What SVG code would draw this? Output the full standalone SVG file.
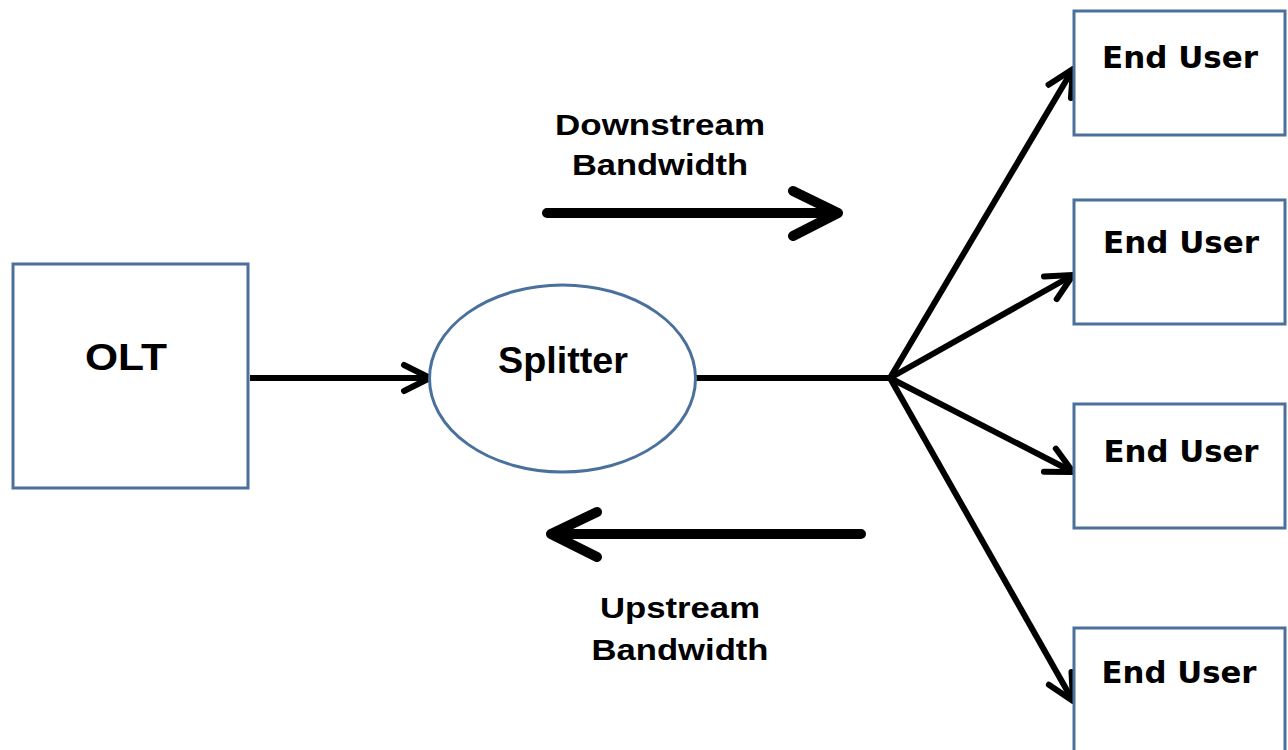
<svg xmlns="http://www.w3.org/2000/svg" width="1288" height="750" viewBox="0 0 1288 750">
  <style>
    .box { fill: #ffffff; stroke: #4a709c; stroke-width: 3; }
    .lbl { font-family: "Liberation Sans", Arial, sans-serif; font-weight: bold; fill: #000000; text-anchor: middle; }
    .eu { font-family: "DejaVu Sans", Verdana, sans-serif; font-weight: bold; font-size: 30px; fill: #000000; text-anchor: middle; }
    .conn { stroke: #000000; stroke-width: 6; fill: none; }
    .big { stroke: #000000; stroke-width: 10; fill: none; stroke-linecap: round; stroke-linejoin: round; }
  </style>
  <defs>
    <marker id="chev" markerUnits="userSpaceOnUse" viewBox="-32 -18 36 36" markerWidth="36" markerHeight="36" refX="0" refY="0" orient="auto">
      <path d="M -26,-13 L 0,0 L -26,13" fill="none" stroke="#000000" stroke-width="6" stroke-linecap="round" stroke-linejoin="round"/>
    </marker>
  </defs>
  <rect width="1288" height="750" fill="#ffffff"/>

  <g id="connectors">
    <line class="conn" x1="250" y1="378" x2="430" y2="378" marker-end="url(#chev)"/>
    <line class="conn" x1="696" y1="378" x2="890" y2="378"/>
    <line class="conn" x1="890" y1="378" x2="1073" y2="69" marker-end="url(#chev)"/>
    <line class="conn" x1="890" y1="378" x2="1073" y2="275" marker-end="url(#chev)"/>
    <line class="conn" x1="890" y1="378" x2="1073" y2="472" marker-end="url(#chev)"/>
    <line class="conn" x1="890" y1="378" x2="1073" y2="701" marker-end="url(#chev)"/>
  </g>

  <g id="downstream-arrow">
    <path class="big" d="M 547,213 L 838,213 M 793,191 L 838,213 L 793,236"/>
    <text class="lbl" font-size="30" x="660" y="135" textLength="210" lengthAdjust="spacingAndGlyphs">Downstream</text>
    <text class="lbl" font-size="30" x="660" y="175" textLength="176" lengthAdjust="spacingAndGlyphs">Bandwidth</text>
  </g>

  <g id="upstream-arrow">
    <path class="big" d="M 861,534 L 551,534 M 597,512 L 551,534 L 597,557"/>
    <text class="lbl" font-size="30" x="680" y="618" textLength="160" lengthAdjust="spacingAndGlyphs">Upstream</text>
    <text class="lbl" font-size="30" x="680" y="660" textLength="177" lengthAdjust="spacingAndGlyphs">Bandwidth</text>
  </g>

  <g id="olt">
    <rect class="box" x="13" y="264" width="235" height="224"/>
    <text class="lbl" font-size="37" x="126" y="370" textLength="82" lengthAdjust="spacingAndGlyphs">OLT</text>
  </g>

  <g id="splitter">
    <ellipse class="box" cx="562.5" cy="378.5" rx="133" ry="93.5"/>
    <text class="lbl" font-size="37" x="563" y="373" textLength="130" lengthAdjust="spacingAndGlyphs">Splitter</text>
  </g>

  <g id="end-user-1">
    <rect class="box" x="1074" y="11" width="211" height="124"/>
    <text class="eu" x="1180" y="68" textLength="156" lengthAdjust="spacingAndGlyphs">End User</text>
  </g>
  <g id="end-user-2">
    <rect class="box" x="1074" y="200" width="211" height="124"/>
    <text class="eu" x="1181" y="253" textLength="156" lengthAdjust="spacingAndGlyphs">End User</text>
  </g>
  <g id="end-user-3">
    <rect class="box" x="1074" y="404" width="211" height="124"/>
    <text class="eu" x="1181" y="462" textLength="155" lengthAdjust="spacingAndGlyphs">End User</text>
  </g>
  <g id="end-user-4">
    <rect class="box" x="1074" y="628" width="211" height="130"/>
    <text class="eu" x="1179" y="683" textLength="155" lengthAdjust="spacingAndGlyphs">End User</text>
  </g>
</svg>
